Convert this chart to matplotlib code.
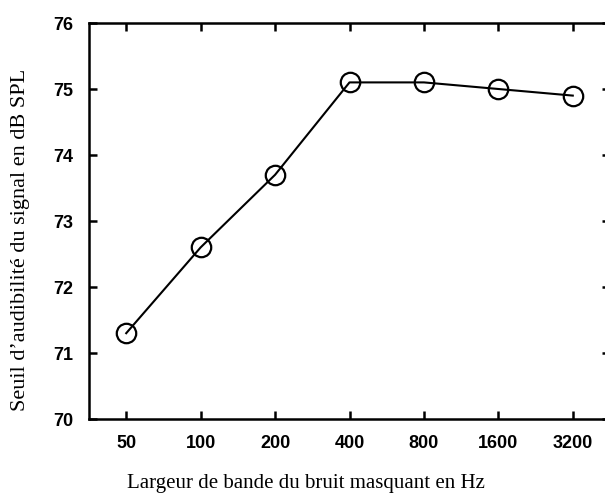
import matplotlib.pyplot as plt

# Données
bandes = ['50', '100', '200', '400', '800', '1600', '3200']
seuil = [71.3, 72.6, 73.7, 75.1, 75.1, 75.0, 74.9]
yticks = [70, 71, 72, 73, 74, 75, 76]

fig = plt.figure(figsize=(6.05, 5.02), dpi=100)
ax = fig.add_axes([89 / 605, 82 / 502, 521 / 605, 396 / 502])

x = list(range(len(bandes)))
ax.plot(x, seuil, color='black', linewidth=1.5, marker='o', markersize=14,
        markerfacecolor='none', markeredgecolor='black', markeredgewidth=1.6)

ax.set_xlim(-0.5, len(bandes) - 0.5)
ax.set_ylim(70, 76)
ax.set_xticks(x)
ax.set_xticklabels(bandes)
ax.set_yticks(yticks)

for s in ax.spines.values():
    s.set_linewidth(1.8)

ax.tick_params(direction='in', length=6, width=1.8, top=True, right=True,
               pad=11, labelsize=13)
for lab in ax.get_xticklabels() + ax.get_yticklabels():
    lab.set_fontweight('bold')
    lab.set_family('Liberation Sans')

ax.set_xlabel('Largeur de bande du bruit masquant en Hz',
              family='Liberation Serif', fontsize=15)
ax.set_ylabel("Seuil d\u2019audibilité du signal en dB SPL",
              family='Liberation Serif', fontsize=16)
# étiquettes décalées comme sur l'original
ax.xaxis.set_label_coords(0.4165, -0.136)
ax.yaxis.set_label_coords(-0.113, 0.4545)

fig.savefig('out.png', dpi=100)
